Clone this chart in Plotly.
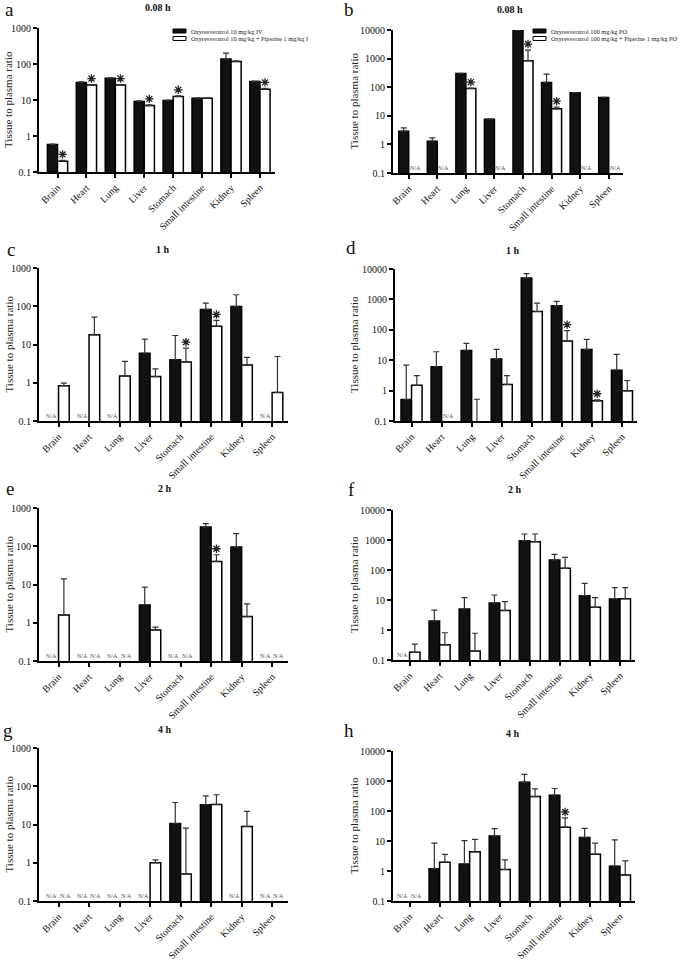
import plotly.graph_objects as go

W, H = 685, 960
SERIF = "Liberation Serif"

tissues = ["Brain", "Heart", "Lung", "Liver", "Stomach", "Small intestine", "Kidney", "Spleen"]

# a: 0.08 h, IV
a_ox = [0.58, 30.7, 40, 9.1, 9.7, 11.2, 137, 32.7]
a_ox_err = [0.02, 1, 1.5, 0.3, 0.3, 0.3, 64, 1]
a_pip = [0.2, 25.9, 25.9, 7.0, 12.5, 11.2, 118, 20]
a_pip_err = [0.01, 1, 1, 0.3, 0.6, 0.3, 4, 1]
a_stars = [0, 1, 2, 3, 4, 7]

# b: 0.08 h, PO
b_ox = [2.9, 1.3, 303, 7.6, 9700, 147, 64, 43.6]
b_ox_err = [0.9, 0.4, 5, 0.2, 100, 140, 1, 1]
b_pip = [None, None, 90, None, 841, 17.5, None, None]
b_pip_err = [0, 0, 3, 0, 1150, 2.5, 0, 0]
b_stars = [2, 4, 5]

# c: 1 h, IV
c_ox = [None, None, None, 5.9, 4.0, 82.6, 99, None]
c_ox_err = [0, 0, 0, 7.9, 13.2, 38, 101, 0]
c_pip = [0.84, 17.9, 1.51, 1.45, 3.5, 30, 2.93, 0.56]
c_pip_err = [0.14, 34, 2.1, 0.85, 4.5, 12.5, 1.7, 4.3]
c_stars = [4, 5]

# d: 1 h, PO
d_ox = [0.51, 6.1, 21, 10.9, 5040, 615, 22.7, 4.7]
d_ox_err = [6.4, 12.9, 15, 11.8, 1960, 240, 26, 10.9]
d_pip = [1.5, None, 0.05, 1.6, 400, 43, 0.46, 0.98]
d_pip_err = [1.6, 0, 0.47, 1.5, 353, 51, 0.04, 1.17]
d_stars = [5, 6]

# e: 2 h, IV
e_ox = [None, None, None, 2.93, None, 318, 95, None]
e_ox_err = [0, 0, 0, 5.6, 0, 71, 118, 0]
e_pip = [1.6, None, None, 0.65, None, 40, 1.45, None]
e_pip_err = [12.4, 0, 0, 0.12, 0, 20, 1.65, 0]
e_stars = [5]

# f: 2 h, PO
f_ox = [None, 2.0, 5.0, 7.9, 950, 215, 13.9, 10.8]
f_ox_err = [0, 2.6, 7, 6.8, 635, 118, 22, 15]
f_pip = [0.18, 0.32, 0.2, 4.5, 880, 114, 5.7, 11]
f_pip_err = [0.16, 0.49, 0.58, 4.3, 705, 150, 6.3, 15]
f_stars = []

# g: 4 h, IV
g_ox = [None, None, None, None, 10.6, 32.7, None, None]
g_ox_err = [0, 0, 0, 0, 27, 23, 0, 0]
g_pip = [None, None, None, 1.0, 0.51, 33.4, 8.9, None]
g_pip_err = [0, 0, 0, 0.19, 7.5, 26.6, 13.1, 0]
g_stars = []

# h: 4 h, PO
h_ox = [None, 1.18, 1.72, 14.6, 917, 336, 13.2, 1.45]
h_ox_err = [0, 7.3, 8.5, 11.2, 738, 226, 13.2, 9.5]
h_pip = [None, 1.97, 4.37, 1.12, 303, 29, 3.65, 0.74]
h_pip_err = [0, 1.6, 6.9, 1.24, 245, 29.6, 4.85, 1.44]
h_stars = [5]

panels = [
    ("a", "0.08 h", a_ox, a_ox_err, a_pip, a_pip_err, a_stars),
    ("b", "0.08 h", b_ox, b_ox_err, b_pip, b_pip_err, b_stars),
    ("c", "1 h", c_ox, c_ox_err, c_pip, c_pip_err, c_stars),
    ("d", "1 h", d_ox, d_ox_err, d_pip, d_pip_err, d_stars),
    ("e", "2 h", e_ox, e_ox_err, e_pip, e_pip_err, e_stars),
    ("f", "2 h", f_ox, f_ox_err, f_pip, f_pip_err, f_stars),
    ("g", "4 h", g_ox, g_ox_err, g_pip, g_pip_err, g_stars),
    ("h", "4 h", h_ox, h_ox_err, h_pip, h_pip_err, h_stars),
]

# pixel boxes: x0, x1, y0 (top), y1 (bottom), top decade, title pos, letter pos
boxes = [
    (39, 275, 28, 172, 3, (158, 8), (9, 10)),
    (393, 623, 30, 173, 4, (510, 10), (349, 10)),
    (39, 288, 268, 421, 3, (163, 249), (11, 249)),
    (395, 637, 269, 421, 4, (513, 250), (351, 248)),
    (39, 288, 508, 661, 3, (165, 488), (10, 488)),
    (393, 635, 510, 660, 4, (515, 490), (351, 489)),
    (39, 288, 748, 901, 3, (165, 729), (8, 730)),
    (393, 635, 751, 901, 4, (513, 733), (349, 730)),
]

BAR_OFF = 0.175  # half of a bar slot with bargap 0.3


def px(x):
    return x / W


def py(y):
    return 1 - y / H


fig = go.Figure()
annotations = []
shapes = []
layout = {}
pos = list(range(len(tissues)))

for i, ((letter, title, ox, ox_err, pip, pip_err, stars), box) in enumerate(zip(panels, boxes)):
    x0, x1, y0, y1, top, tpos, lpos = box
    n = "" if i == 0 else str(i + 1)
    xa, ya = "x" + n, "y" + n

    for vals, errs, fill in [(ox, ox_err, "#111111"), (pip, pip_err, "white")]:
        fig.add_trace(
            go.Bar(
                x=pos,
                y=vals,
                xaxis=xa,
                yaxis=ya,
                marker=dict(color=fill, line=dict(color="black", width=1.5)),
                error_y=dict(
                    type="data", symmetric=False, array=errs,
                    arrayminus=[0] * len(errs), color="#333333",
                    thickness=1.2, width=3,
                ),
                showlegend=False,
            )
        )

    # significance stars just above the combination bar's error cap
    if stars:
        decade_px = (y1 - y0) / (top + 1)
        lift = 10 ** (6 / decade_px)
        fig.add_trace(
            go.Scatter(
                x=[j + BAR_OFF for j in stars],
                y=[(pip[j] + pip_err[j]) * lift for j in stars],
                xaxis=xa, yaxis=ya, mode="markers",
                marker=dict(symbol="asterisk-open", size=7, color="#222222",
                            line=dict(color="#222222", width=1.3)),
                showlegend=False, hoverinfo="skip",
            )
        )

    # N/A labels
    for j in pos:
        for vals, off in [(ox, -0.22), (pip, 0.22)]:
            if vals[j] is None:
                annotations.append(dict(
                    x=j + off, y=-1, xref=xa, yref=ya, text="N/A",
                    showarrow=False, xanchor="center", yanchor="bottom",
                    font=dict(family=SERIF, size=6, color="#555555"),
                ))

    left = x0 < 300
    layout["xaxis" + n] = dict(
        domain=[px(x0), px(x1)], anchor=ya,
        range=[-0.64, 7.52] if left else [-0.55, 7.5],
        tickvals=pos, ticktext=tissues,
        showline=True, linecolor="black", linewidth=2,
        ticks="outside", ticklen=4, tickwidth=1.5, tickcolor="black",
        tickangle=-45, showgrid=False, zeroline=False,
        tickfont=dict(family=SERIF, size=10, color="#111111"),
    )
    tv = [10 ** k for k in range(-1, top + 1)]
    layout["yaxis" + n] = dict(
        domain=[py(y1), py(y0)], anchor=xa, type="log",
        range=[-1, top], tickvals=tv, ticktext=[f"{v:g}" for v in tv],
        showline=True, linecolor="black", linewidth=2,
        ticks="outside", ticklen=4, tickwidth=1.5, tickcolor="black",
        showgrid=False, zeroline=False,
        tickfont=dict(family=SERIF, size=10, color="#111111"),
    )

    annotations.append(dict(
        x=px(8 if left else 354), y=py((y0 + y1) / 2), xref="paper", yref="paper",
        text="Tissue to plasma ratio", textangle=-90, showarrow=False,
        xanchor="center", yanchor="middle",
        font=dict(family=SERIF, size=11, color="#222222"),
    ))
    annotations.append(dict(
        x=px(tpos[0]), y=py(tpos[1]), xref="paper", yref="paper",
        text=f"<b>{title}</b>", showarrow=False,
        xanchor="center", yanchor="middle",
        font=dict(family=SERIF, size=10, color="#111111"),
    ))
    annotations.append(dict(
        x=px(lpos[0]), y=py(lpos[1]), xref="paper", yref="paper",
        text=letter, showarrow=False, xanchor="center", yanchor="middle",
        font=dict(family=SERIF, size=19, color="#111111"),
    ))

# legends (drawn by hand to keep the tight spacing)
legend_sets = [
    (173, ["Oxyresveratrol 10 mg/kg IV", "Oxyresveratrol 10 mg/kg + Piperine 1 mg/kg I"]),
    (533, ["Oxyresveratrol 100 mg/kg PO", "Oxyresveratrol 100 mg/kg + Piperine 1 mg/kg PO"]),
]
for lx, labels in legend_sets:
    for k, (lab, fill) in enumerate(zip(labels, ["#111111", "white"])):
        cy = 31 + 7.5 * k
        shapes.append(dict(
            type="rect", xref="paper", yref="paper",
            x0=px(lx), x1=px(lx + 13), y0=py(cy + 2), y1=py(cy - 2),
            fillcolor=fill, line=dict(color="black", width=1),
        ))
        annotations.append(dict(
            x=px(lx + 16), y=py(cy), xref="paper", yref="paper", text=lab,
            showarrow=False, xanchor="left", yanchor="middle",
            font=dict(family=SERIF, size=6.3, color="#222222"),
        ))

fig.update_layout(
    width=W, height=H,
    margin=dict(l=0, r=0, t=0, b=0, autoexpand=False),
    paper_bgcolor="white", plot_bgcolor="white",
    barmode="group", bargap=0.3, bargroupgap=0,
    showlegend=False,
    annotations=annotations, shapes=shapes,
    **layout,
)

# drop the browser's default body margin so the figure sits at the page corner
fig.write_html(
    "out.html",
    config={"displayModeBar": False},
    post_script="document.body.style.margin = '0';",
)
